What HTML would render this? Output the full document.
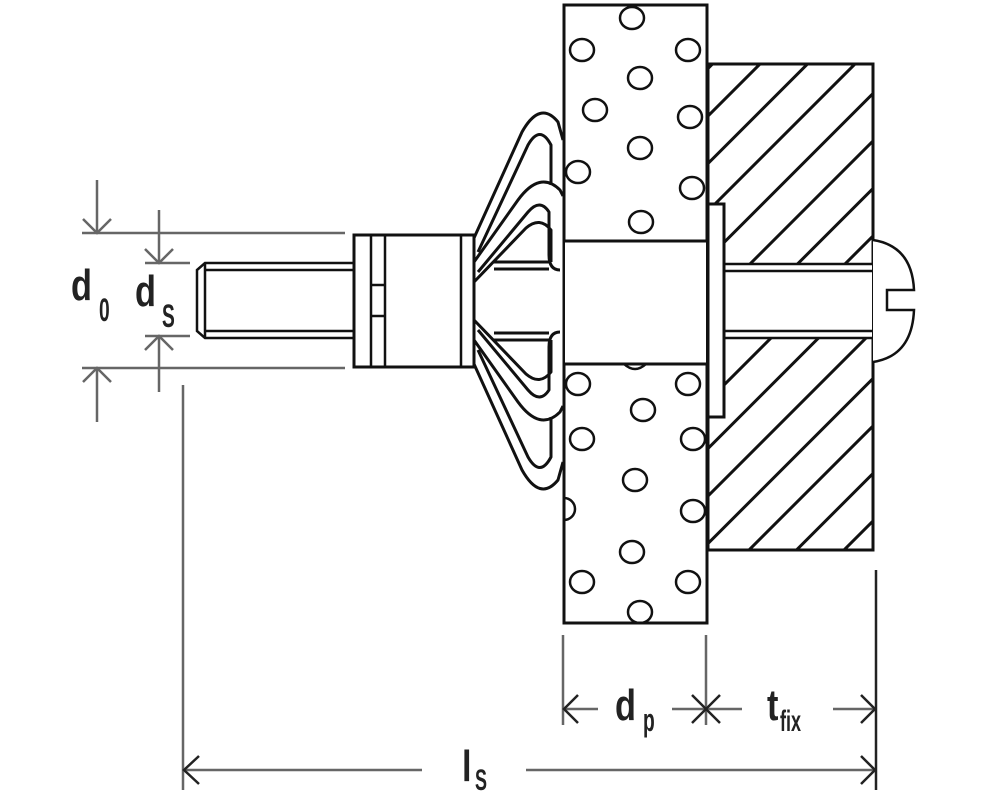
<!DOCTYPE html>
<html><head><meta charset="utf-8"><style>
html,body{margin:0;padding:0;background:#fff;overflow:hidden;width:1000px;height:799px;}
svg{display:block;}
text{font-family:"Liberation Sans",sans-serif;fill:#222;}
</style></head><body>
<svg width="1000" height="799" viewBox="0 0 1000 799" xmlns="http://www.w3.org/2000/svg">
<defs>
<clipPath id="blk"><path d="M708,64 H873 V550 H708 Z M708,263 V338 H873 V263 Z" clip-rule="evenodd"/></clipPath>
<g id="wing" fill="none" stroke="#111" stroke-width="3" stroke-linejoin="round">
  <path d="M474,238 L522,132 Q540,100 558,122 L563,140"/>
  <path d="M478,252 L528,145 Q540,124 551,145 L551,185"/>
  <path d="M474,262 L518,200 Q540,170 560,190 L563,196"/>
  <path d="M478,272 L528,212 Q540,198 549,212 L549,255 Q549,270 560,270"/>
  <path d="M474,282 L526,228 Q540,216 551,230 L551,262"/>
  <path d="M494,262 H549 M494,269 H549"/>
</g>
</defs>
<rect x="0" y="0" width="1000" height="799" fill="#fff"/>

<rect x="564" y="5" width="143" height="618" fill="#fff" stroke="#111" stroke-width="3"/>
<g fill="none" stroke="#111" stroke-width="2.5">
<ellipse cx="632" cy="18" rx="12" ry="11"/><ellipse cx="582" cy="50" rx="12" ry="11"/><ellipse cx="688" cy="50" rx="12" ry="11"/>
<ellipse cx="640" cy="78" rx="12" ry="11"/><ellipse cx="595" cy="110" rx="12" ry="11"/><ellipse cx="690" cy="117" rx="12" ry="11"/>
<ellipse cx="640" cy="148" rx="12" ry="11"/><ellipse cx="578" cy="172" rx="12" ry="11"/><ellipse cx="692" cy="188" rx="12" ry="11"/>
<ellipse cx="641" cy="222" rx="12" ry="11"/>
<ellipse cx="578" cy="384" rx="12" ry="11"/><ellipse cx="688" cy="384" rx="12" ry="11"/><ellipse cx="643" cy="410" rx="12" ry="11"/>
<ellipse cx="582" cy="439" rx="12" ry="11"/><ellipse cx="693" cy="439" rx="12" ry="11"/><ellipse cx="635" cy="480" rx="12" ry="11"/>
<ellipse cx="693" cy="511" rx="12" ry="11"/><ellipse cx="632" cy="552" rx="12" ry="11"/>
<ellipse cx="582" cy="582" rx="12" ry="11"/><ellipse cx="688" cy="582" rx="12" ry="11"/><ellipse cx="640" cy="612" rx="12" ry="11"/>
<path d="M564,498 A11,11 0 0 1 564,520"/>
</g>
<rect x="565" y="241" width="141" height="123" fill="#fff" stroke="none"/>
<line x1="564" y1="241" x2="707" y2="241" stroke="#111" stroke-width="3"/>
<line x1="564" y1="364" x2="707" y2="364" stroke="#111" stroke-width="3"/>
<path d="M624,364 Q635,374 646,364" fill="none" stroke="#111" stroke-width="2.5"/>

<rect x="708" y="64" width="165" height="486" fill="#fff" stroke="#111" stroke-width="3"/>
<g clip-path="url(#blk)" stroke="#111" stroke-width="3">
<line x1="500" y1="276.5" x2="1000" y2="-223.5"/>
<line x1="500" y1="324" x2="1000" y2="-176"/>
<line x1="500" y1="371.5" x2="1000" y2="-128.5"/>
<line x1="500" y1="419" x2="1000" y2="-81"/>
<line x1="500" y1="466.5" x2="1000" y2="-33.5"/>
<line x1="500" y1="514" x2="1000" y2="14"/>
<line x1="500" y1="561.5" x2="1000" y2="61.5"/>
<line x1="500" y1="609" x2="1000" y2="109"/>
<line x1="500" y1="656.5" x2="1000" y2="156.5"/>
<line x1="500" y1="704" x2="1000" y2="204"/>
<line x1="500" y1="751.5" x2="1000" y2="251.5"/>
<line x1="500" y1="799" x2="1000" y2="299"/>
<line x1="500" y1="846.5" x2="1000" y2="346.5"/>
<line x1="500" y1="894" x2="1000" y2="394"/>
<line x1="500" y1="941.5" x2="1000" y2="441.5"/>
</g>
<rect x="709" y="264" width="163" height="73" fill="#fff"/>
<g stroke="#111" stroke-width="2.5">
<line x1="725" y1="264" x2="873" y2="264"/><line x1="725" y1="271" x2="873" y2="271"/>
<line x1="725" y1="331" x2="873" y2="331"/><line x1="725" y1="338" x2="873" y2="338"/>
</g>
<rect x="708" y="204" width="16" height="213" fill="#fff" stroke="#111" stroke-width="3"/>
<path d="M873,240 Q912,246 914,290 L887,290 L887,310 L914,310 Q912,356 873,362" fill="#fff" stroke="#111" stroke-width="2.5"/>

<use href="#wing"/>
<use href="#wing" transform="translate(0,602) scale(1,-1)"/>

<rect x="354" y="235" width="120" height="132" fill="#fff" stroke="#111" stroke-width="3"/>
<g stroke="#111" stroke-width="2.5">
<line x1="371" y1="235" x2="371" y2="367"/><line x1="385" y1="235" x2="385" y2="367"/>
<line x1="461" y1="235" x2="461" y2="367"/>
<line x1="371" y1="285" x2="385" y2="285"/><line x1="371" y1="316" x2="385" y2="316"/>
</g>
<g stroke="#111" stroke-width="2.5" fill="none">
<path d="M354,263 H205 L197,270 V331 L205,338 H354"/>
<line x1="205" y1="270" x2="354" y2="270"/><line x1="205" y1="331" x2="354" y2="331"/>
<line x1="205" y1="263" x2="205" y2="338"/>
</g>

<g stroke="#666" stroke-width="2.5" fill="none">
<line x1="82" y1="233" x2="345" y2="233"/>
<line x1="82" y1="368" x2="345" y2="368"/>
<line x1="97" y1="180" x2="97" y2="232"/>
<path d="M83,219 L97,233 L111,219"/>
<line x1="97" y1="369" x2="97" y2="422"/>
<path d="M83,382 L97,368 L111,382"/>
<line x1="145" y1="263" x2="190" y2="263"/>
<line x1="145" y1="336" x2="190" y2="336"/>
<line x1="159" y1="210" x2="159" y2="262"/>
<path d="M145,249 L159,263 L173,249"/>
<line x1="159" y1="337" x2="159" y2="392"/>
<path d="M145,350 L159,336 L173,350"/>
<line x1="183" y1="385" x2="183" y2="790"/>
<line x1="184" y1="770" x2="422" y2="770"/>
<line x1="526" y1="770" x2="875" y2="770"/>
<line x1="563" y1="635" x2="563" y2="725"/>
<line x1="706" y1="635" x2="706" y2="725"/>
<line x1="564" y1="709" x2="598" y2="709"/>
<line x1="672" y1="709" x2="742" y2="709"/>
<line x1="833" y1="709" x2="875" y2="709"/>
</g>
<g stroke="#222" stroke-width="2.5" fill="none">
<line x1="876" y1="570" x2="876" y2="790"/>
<path d="M199,756 L184,770 L199,784"/>
<path d="M861,756 L875,770 L861,784"/>
<path d="M578,695 L564,709 L578,723"/>
<path d="M692,695 L706,709 L692,723"/>
<path d="M720,695 L706,709 L720,723"/>
<path d="M861,695 L875,709 L861,723"/>
</g>

<g font-size="44" font-weight="bold">
<text transform="translate(71,300) scale(0.78,1)">d</text>
<text font-size="32" transform="translate(99,321) scale(0.6,1)">0</text>
<text transform="translate(135,306) scale(0.78,1)">d</text>
<text font-size="32" transform="translate(162,327) scale(0.6,1)">S</text>
<text transform="translate(615,720) scale(0.78,1)">d</text>
<text font-size="32" transform="translate(643,731) scale(0.6,1)">p</text>
<text transform="translate(767,720) scale(0.78,1)">t</text>
<text font-size="30" transform="translate(780,731) scale(0.6,1)">fix</text>
<text transform="translate(462,781) scale(0.78,1)">l</text>
<text font-size="30" transform="translate(475,790) scale(0.6,1)">S</text>
</g>
</svg>
</body></html>
